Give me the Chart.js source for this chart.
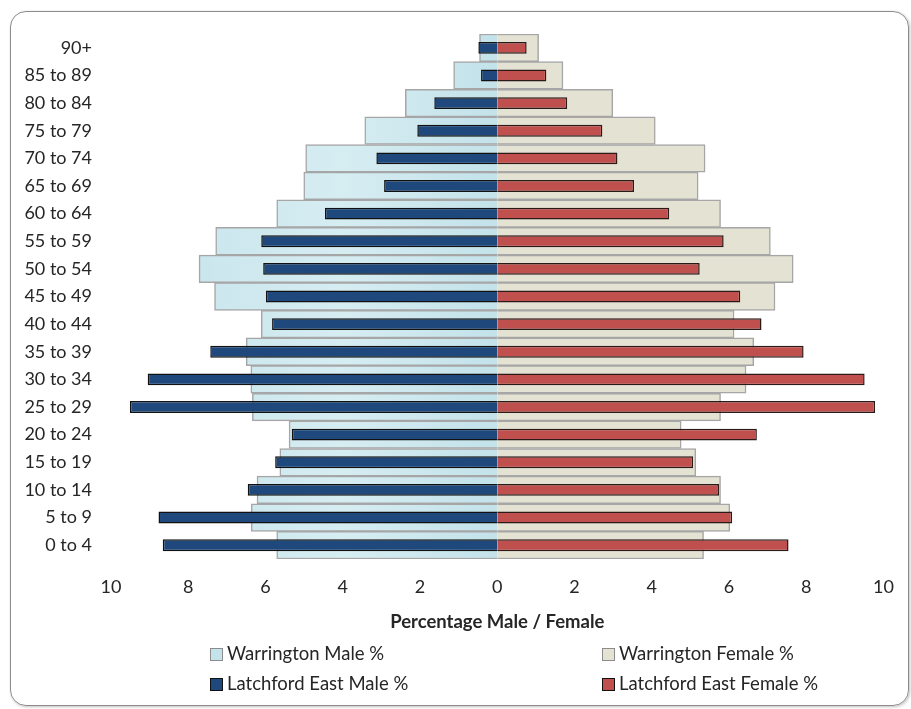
<!DOCTYPE html>
<html>
<head>
<meta charset="utf-8">
<script src="https://cdn.jsdelivr.net/npm/chart.js@4.4.1/dist/chart.umd.min.js"></script>
<style>
body { margin: 0; background: #fff; }
#wrap { position: relative; width: 911px; height: 709px; overflow: hidden; font-family: Lato, sans-serif; }
#frame { position: absolute; left: 10px; top: 11px; width: 897px; height: 693px; border: 1.5px solid #8c8c8c; border-radius: 16px; box-shadow: 1px 1px 3px rgba(0,0,0,0.25); }
canvas { position: absolute; left: 0; top: 0; }
.lg { position: absolute; font-size: 18.5px; color: #262626; white-space: nowrap; line-height: 20px; }
.lg span { display: inline-block; width: 11px; height: 11px; border: 1px solid; margin-right: 4px; vertical-align: -1px; }
</style>
</head>
<body>
<div id="wrap">
  <div id="frame"></div>
  <canvas id="pyramid" width="911" height="709"></canvas>
  <div id="legend"></div>
</div>
<script>
// age bands, top to bottom
const ageGroups = ['90+', '85 to 89', '80 to 84', '75 to 79', '70 to 74', '65 to 69', '60 to 64',
  '55 to 59', '50 to 54', '45 to 49', '40 to 44', '35 to 39', '30 to 34', '25 to 29',
  '20 to 24', '15 to 19', '10 to 14', '5 to 9', '0 to 4'];

// percentages
const warringtonMale = [0.46, 1.13, 2.38, 3.43, 4.96, 5.01, 5.71, 7.29, 7.72, 7.32, 6.11, 6.50, 6.38, 6.34, 5.39, 5.63, 6.22, 6.37, 5.71];
const warringtonFemale = [1.07, 1.70, 2.99, 4.09, 5.38, 5.20, 5.78, 7.07, 7.66, 7.19, 6.13, 6.64, 6.44, 5.78, 4.76, 5.14, 5.78, 6.02, 5.34];
const latchfordMale = [0.49, 0.42, 1.63, 2.07, 3.13, 2.93, 4.46, 6.11, 6.06, 5.99, 5.83, 7.43, 9.05, 9.51, 5.32, 5.75, 6.46, 8.77, 8.66];
const latchfordFemale = [0.76, 1.27, 1.81, 2.72, 3.11, 3.54, 4.45, 5.86, 5.24, 6.29, 6.84, 7.93, 9.51, 9.78, 6.72, 5.07, 5.74, 6.08, 7.54];

const xTicks = [-10, -8, -6, -4, -2, 0, 2, 4, 6, 8, 10];

// light blue bars have a soft sheen across them
const maleSheen = (ctx) => {
  const area = ctx.chart.chartArea;
  if (!area) return '#c5e3eb';
  const g = ctx.chart.ctx.createLinearGradient(area.left, 0, (area.left + area.right) / 2, 0);
  g.addColorStop(0, '#c3e2ea');
  g.addColorStop(0.6, '#d6edf2');
  g.addColorStop(1, '#c3e2ea');
  return g;
};

const chart = new Chart(document.getElementById('pyramid'), {
  type: 'bar',
  data: {
    labels: ageGroups,
    datasets: [
      {
        label: 'Warrington Male %',
        data: warringtonMale.map(v => -v),
        backgroundColor: maleSheen,
        legendColor: '#c5e3eb',
        borderColor: '#a6a6a6',
        borderWidth: 1.5,
        barPercentage: 1,
        categoryPercentage: 1,
        order: 2
      },
      {
        label: 'Warrington Female %',
        data: warringtonFemale,
        backgroundColor: '#e4e2d2',
        legendColor: '#e4e2d2',
        borderColor: '#a6a6a6',
        borderWidth: 1.5,
        barPercentage: 1,
        categoryPercentage: 1,
        order: 2
      },
      {
        label: 'Latchford East Male %',
        data: latchfordMale.map(v => -v),
        backgroundColor: '#1f497d',
        legendColor: '#1f497d',
        borderColor: '#111111',
        borderWidth: 1.5,
        barPercentage: 0.43,
        categoryPercentage: 1,
        order: 1
      },
      {
        label: 'Latchford East Female %',
        data: latchfordFemale,
        backgroundColor: '#c0504d',
        legendColor: '#c0504d',
        borderColor: '#2a1a1a',
        borderWidth: 1.5,
        barPercentage: 0.43,
        categoryPercentage: 1,
        order: 1
      }
    ]
  },
  options: {
    indexAxis: 'y',
    responsive: false,
    animation: false,
    datasets: { bar: { grouped: false } },
    layout: { padding: { top: 34, right: 25, bottom: 76, left: 0 } },
    scales: {
      x: {
        min: -10, max: 10,
        afterBuildTicks: (s) => { s.ticks = xTicks.map(v => ({ value: v })); },
        afterFit: (s) => { s.height = 74; },
        grid: { display: false, drawTicks: false },
        border: { display: false },
        ticks: {
          padding: 17,
          color: '#262626',
          font: { family: 'Lato', size: 18 },
          callback: (v) => Math.abs(v)
        },
        title: {
          display: true,
          text: 'Percentage Male / Female',
          color: '#262626',
          font: { family: 'Lato', size: 18.5, weight: 'bold' },
          padding: { top: 0, bottom: 0 }
        }
      },
      y: {
        afterFit: (s) => { s.width = 111; },
        grid: { display: false, drawTicks: false },
        border: { display: false },
        ticks: {
          padding: 19,
          color: '#262626',
          font: { family: 'Lato', size: 18 }
        }
      }
    },
    plugins: {
      legend: { display: false },
      tooltip: { enabled: false }
    }
  }
});

// 2 x 2 legend under the axis title
const legendSpots = [[210, 643], [602, 643], [210, 673], [602, 673]];
const legendBox = document.getElementById('legend');
chart.data.datasets.forEach((ds, i) => {
  const item = document.createElement('div');
  item.className = 'lg';
  item.style.left = legendSpots[i][0] + 'px';
  item.style.top = legendSpots[i][1] + 'px';
  item.innerHTML = '<span style="background:' + ds.legendColor + ';border-color:' +
    (i < 2 ? '#8c8c8c' : '#111') + '"></span>' + ds.label;
  legendBox.appendChild(item);
});
</script>
</body>
</html>
